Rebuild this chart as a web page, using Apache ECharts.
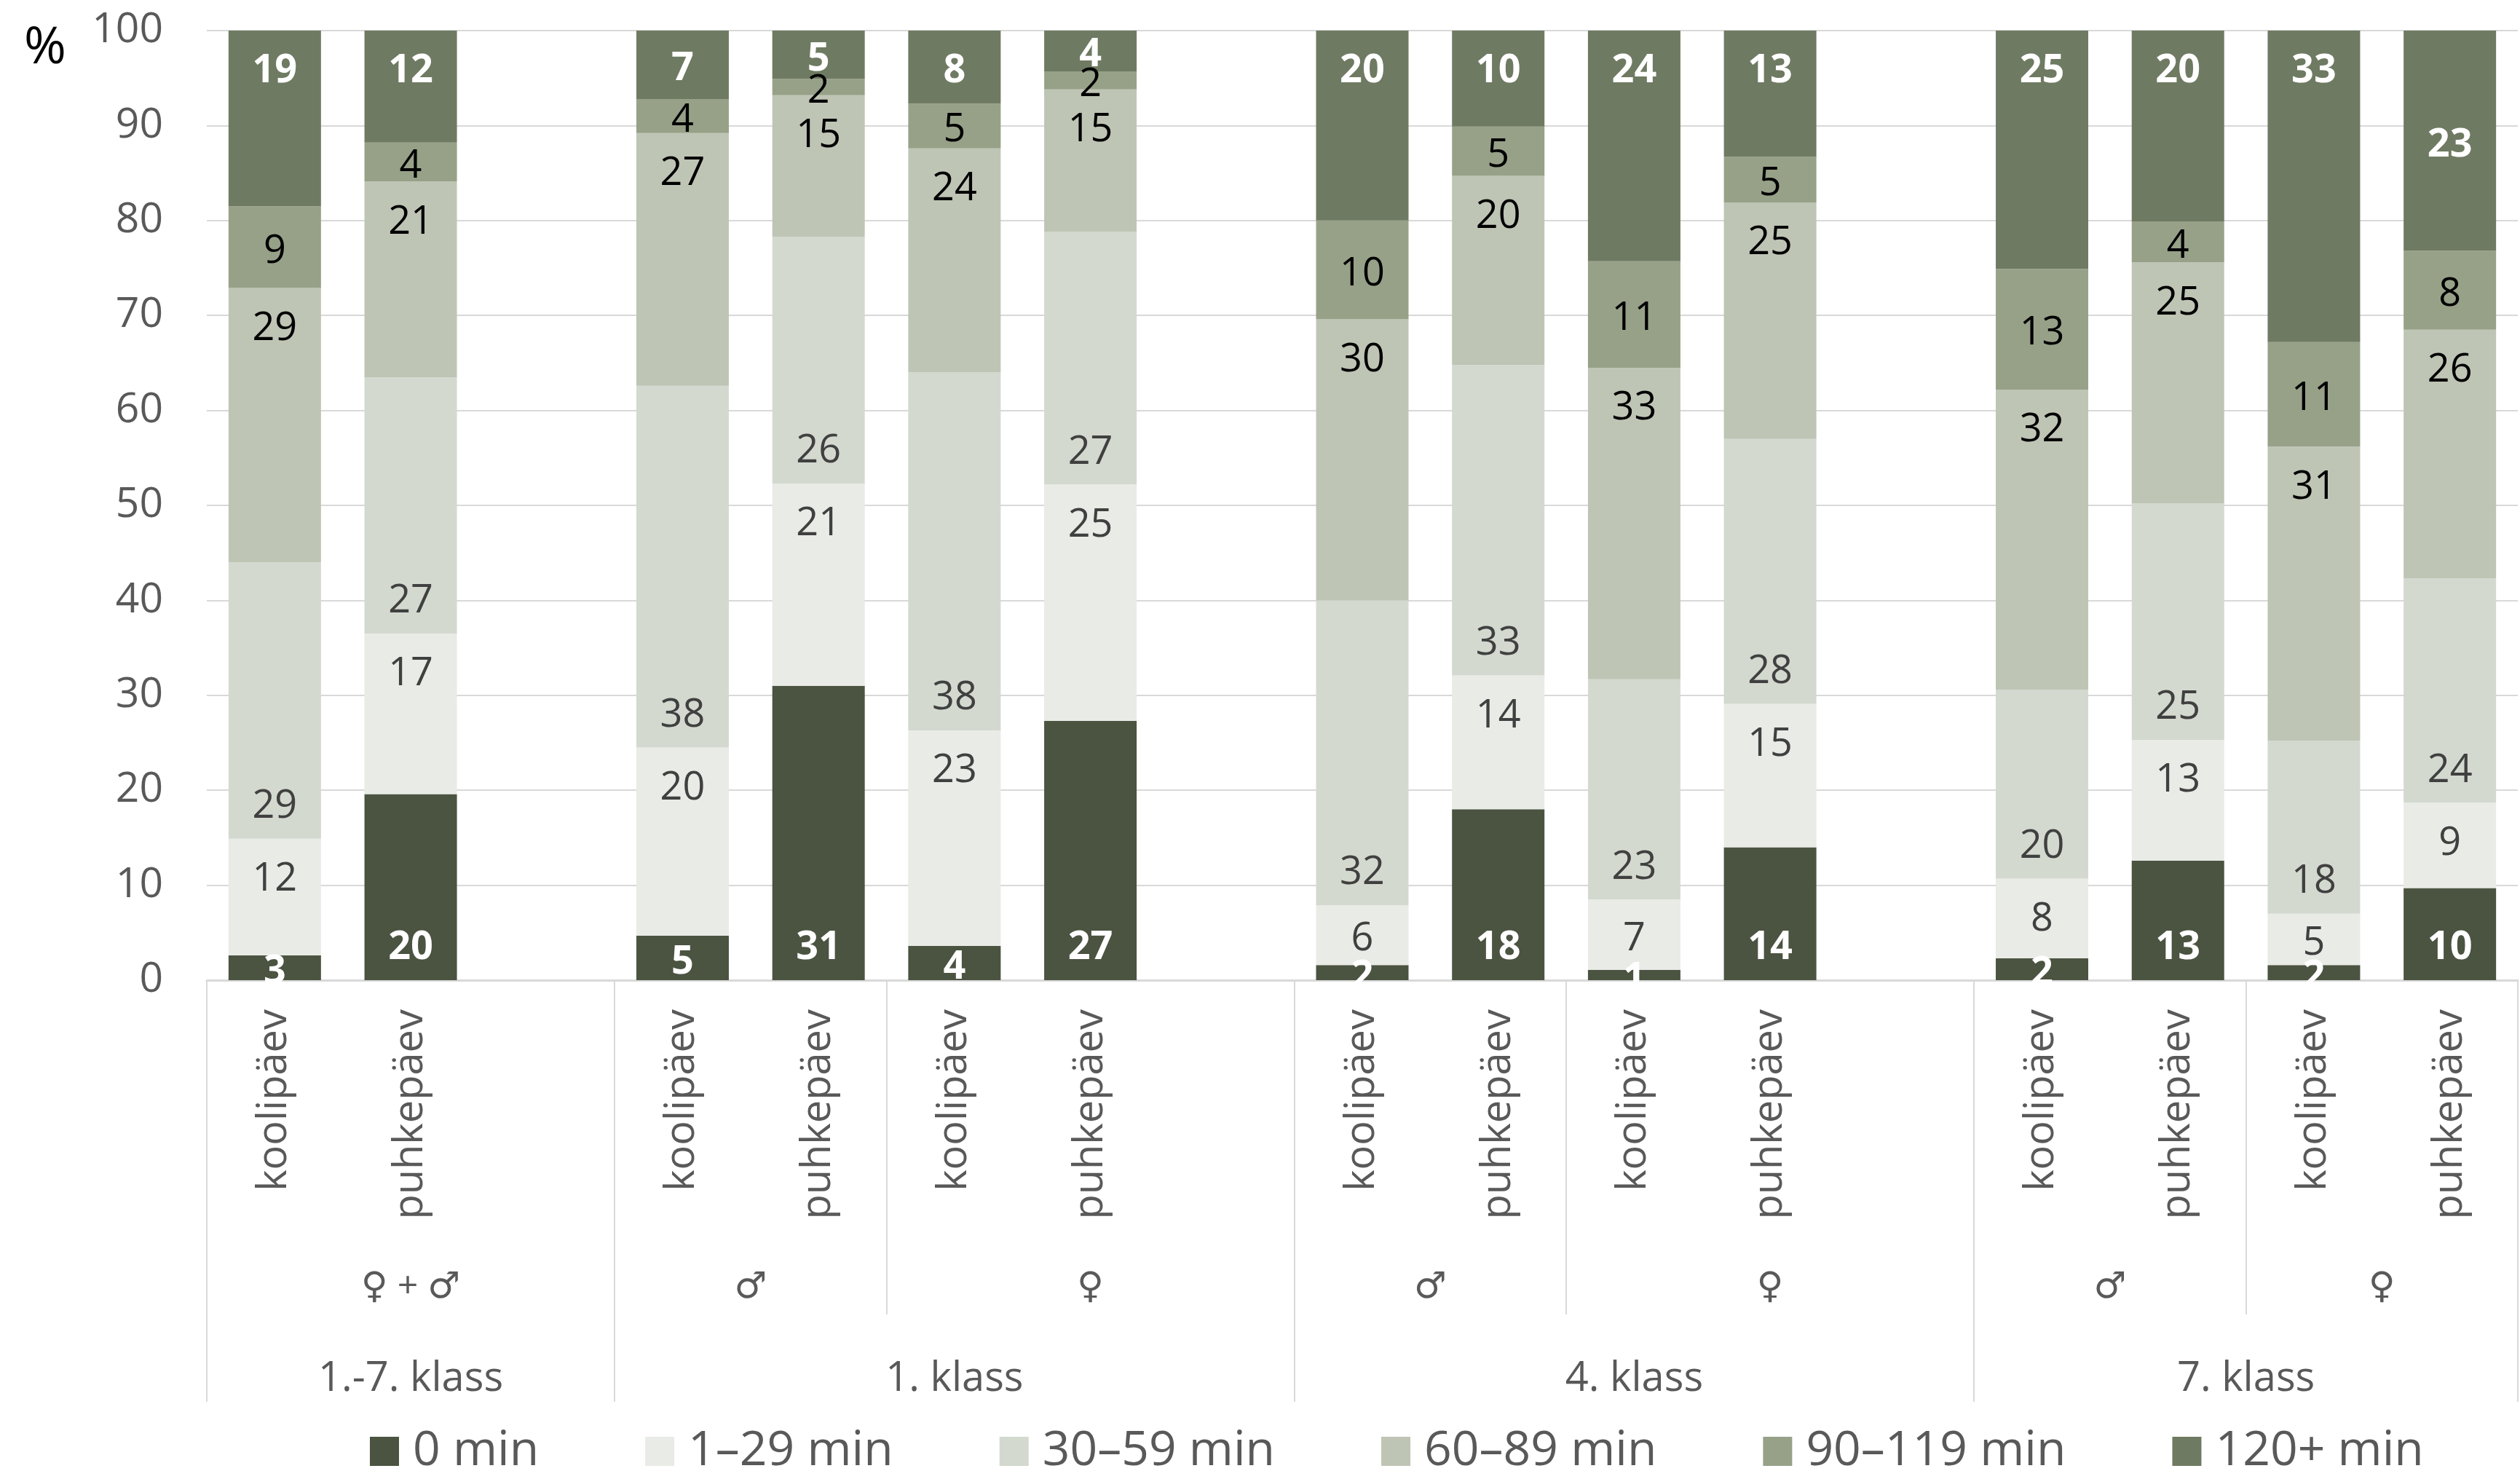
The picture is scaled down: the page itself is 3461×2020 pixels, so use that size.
<!DOCTYPE html>
<html>
<head>
<meta charset="utf-8">
<script src="https://cdn.jsdelivr.net/npm/echarts@6/dist/echarts.min.js"></script>
<style>
html,body{margin:0;padding:0;background:#fff;}
#chart{width:3461px;height:2020px;}
</style>
</head>
<body>
<div id="chart"></div>
<script>
// ---- data ----
const categories = ['koolipäev','puhkepäev','','koolipäev','puhkepäev','koolipäev','puhkepäev','','koolipäev','puhkepäev','koolipäev','puhkepäev','','koolipäev','puhkepäev','koolipäev','puhkepäev'];
const seriesNames = ['0 min','1–29 min','30–59 min','60–89 min','90–119 min','120+ min'];
const min0   = [2.6,19.6,null,4.7,31.0,3.6,27.3,null,1.6,18.0,1.1,14.0,null,2.3,12.6,1.6,9.7];
const min1   = [12.3,16.9,null,19.8,21.3,22.7,24.9,null,6.3,14.1,7.4,15.1,null,8.4,12.7,5.4,9.0];
const min30  = [29.1,27.0,null,38.1,26.0,37.7,26.6,null,32.1,32.7,23.2,27.9,null,19.9,24.9,18.2,23.6];
const min60  = [28.9,20.6,null,26.6,14.9,23.6,15.0,null,29.6,19.9,32.8,24.9,null,31.6,25.4,31.0,26.2];
const min90  = [8.6,4.1,null,3.6,1.7,4.7,1.9,null,10.4,5.2,11.2,4.8,null,12.7,4.3,11.0,8.3];
const min120 = [18.5,11.8,null,7.2,5.1,7.7,4.3,null,20.0,10.1,24.3,13.3,null,25.1,20.1,32.8,23.2];
const genderLabels = ['♀ + ♂','♂','♀','♂','♀','♂','♀'];
const genderSpans  = [3,2,3,2,3,2,2];
const classLabels  = ['1.-7. klass','1. klass','4. klass','7. klass'];
const classSpans   = [3,5,5,4];
const yTicks = [0,10,20,30,40,50,60,70,80,90,100];

// ---- styling ----
const FONT = "'Open Sans', 'DejaVu Sans', sans-serif";
const colors = ['#4B5341','#E9EBE6','#D3D9CF','#BFC5B5','#97A188','#6F7A62'];
const labelColors = ['#FFFFFF','#404040','#404040','#000000','#000000','#FFFFFF'];
const labelBold = [true,false,false,false,false,true];
const labelMode = ['bottom','top','bottom','top','center','top'];
const GRID = {left:284, right:3, top:42, bottom:674};
const plotH = 2020 - GRID.top - GRID.bottom;
const pxPerUnit = plotH / (yTicks[yTicks.length-1] - yTicks[0]);
const LABEL_D = 50;
const LABEL_DY = 6;
const allValues = [min0,min1,min30,min60,min90,min120];

function labelOffset(si, i, v){
  let mode = labelMode[si];
  if (si === 5 && i === categories.length - 1) mode = 'center';
  if (mode === 'center') return LABEL_DY;
  const h = v * pxPerUnit;
  const shift = h/2 - Math.min(LABEL_D, h/2);
  return (mode === 'top' ? -shift : shift) + LABEL_DY;
}

// half-band axis for grouping levels
const N = categories.length;
const halfCount = 2*N + 1;
function buildLevel(labels, spans){
  const data = new Array(halfCount).fill('');
  const bounds = new Set();
  let s = 0;
  labels.forEach((lab, j) => {
    const n = spans[j];
    data[2*s + n] = lab;
    bounds.add(2*s); bounds.add(2*(s+n));
    s += n;
  });
  return {data, bounds};
}
const gLevel = buildLevel(genderLabels, genderSpans);
const cLevel = buildLevel(classLabels, classSpans);

const chart = echarts.init(document.getElementById('chart'), null, {renderer:'canvas'});

const series = seriesNames.map((name, si) => ({
  name, type:'bar', stack:'total', barWidth:127, xAxisIndex:0, yAxisIndex:0,
  itemStyle:{color:colors[si]},
  label:{
    show:true, position:'inside',
    formatter: p => Math.round(p.value),
    color: labelColors[si], fontWeight: labelBold[si] ? 'bold' : 'normal',
    fontSize:54, fontFamily:FONT
  },
  data: allValues[si].map((v,i) => v == null ? null : {value:v, label:{offset:[0, labelOffset(si,i,v)]}})
}));

const lineCol = '#D9D9D9';

chart.setOption({
  animation:false,
  backgroundColor:'#fff',
  title:{text:'%', left:33, top:32, padding:0, textStyle:{fontSize:70, fontWeight:'normal', color:'#000', fontFamily:FONT}},
  legend:{
    data:seriesNames, left:508, top:1960, padding:0,
    itemWidth:40, itemHeight:40, itemGap:146, icon:'rect',
    textStyle:{fontSize:66, color:'#595959', fontFamily:FONT, padding:[0,0,0,14]}
  },
  grid:GRID,
  xAxis:[
    {
      type:'category', data:categories, position:'bottom',
      axisLine:{show:true, lineStyle:{color:lineCol, width:3}},
      axisTick:{show:false},
      axisLabel:{interval:0, rotate:90, margin:40, fontSize:56, color:'#595959', fontFamily:FONT},
      splitLine:{show:false}
    },
    {
      type:'category', data:gLevel.data, position:'bottom', boundaryGap:false,
      axisLine:{show:false},
      axisTick:{show:true, length:459, interval:(idx)=>gLevel.bounds.has(idx), lineStyle:{color:lineCol, width:2}},
      axisLabel:{interval:0, margin:392, fontSize:50, lineHeight:60, color:'#595959', fontFamily:FONT},
      splitLine:{show:false}
    },
    {
      type:'category', data:cLevel.data, position:'bottom', boundaryGap:false,
      axisLine:{show:false},
      axisTick:{show:true, length:579, interval:(idx)=>cLevel.bounds.has(idx), lineStyle:{color:lineCol, width:2}},
      axisLabel:{interval:0, margin:518, fontSize:56, lineHeight:60, color:'#595959', fontFamily:FONT},
      splitLine:{show:false}
    }
  ],
  yAxis:{
    type:'value', min:yTicks[0], max:yTicks[yTicks.length-1], interval:yTicks[1]-yTicks[0],
    axisLine:{show:false}, axisTick:{show:false},
    axisLabel:{margin:60, fontSize:57, color:'#595959', fontFamily:FONT},
    splitLine:{show:true, lineStyle:{color:lineCol, width:2}}
  },
  series
});
</script>
</body>
</html>
